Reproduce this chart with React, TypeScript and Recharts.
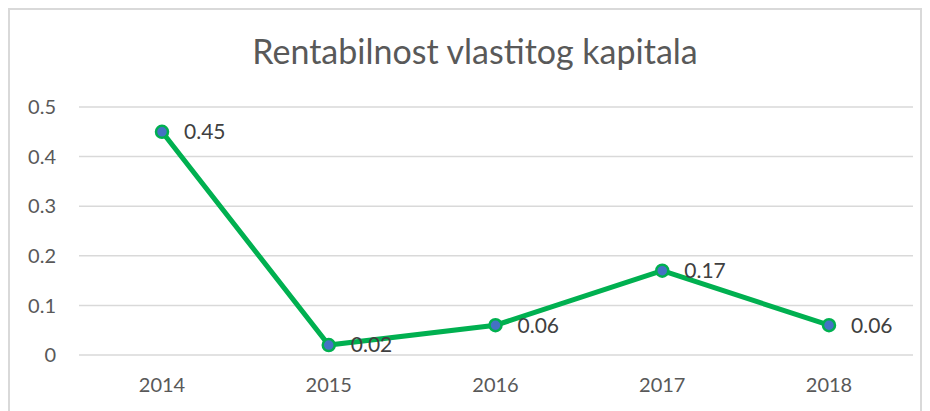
import { LineChart, Line, XAxis, YAxis, CartesianGrid } from "recharts";

const years = ["2014", "2015", "2016", "2017", "2018"];
const values = [0.45, 0.02, 0.06, 0.17, 0.06];
const yTicks = [0, 0.1, 0.2, 0.3, 0.4, 0.5];

const data = years.map((y, i) => ({ year: y, v: values[i] }));

const font = "Lato, 'Open Sans', sans-serif";

function PointLabel(props: any) {
  const { x, y, value } = props;
  return (
    <text x={x + 22} y={y} dy="0.35em" fill="#404040" fontSize={21} fontFamily={font} textAnchor="start">
      {value}
    </text>
  );
}

export default function App() {
  return (
    <div
      style={{
        position: "relative",
        width: 910,
        height: 420,
        border: "2px solid #d9d9d9",
        background: "#fff",
        fontFamily: font,
      }}
    >
      <div
        style={{
          position: "absolute",
          top: 24,
          left: 0,
          width: 930,
          textAlign: "center",
          fontSize: 34,
          lineHeight: "34px",
          color: "#595959",
          pointerEvents: "none",
        }}
      >
        Rentabilnost vlastitog kapitala
      </div>
      <LineChart width={910} height={395} data={data} margin={{ top: 97, right: 7, left: 0, bottom: 10 }}>
        <CartesianGrid vertical={false} stroke="#d9d9d9" strokeWidth={1.5} />
        <XAxis
          dataKey="year"
          axisLine={false}
          tickLine={false}
          tickSize={0}
          tickMargin={23}
          height={40}
          padding={{ left: 83, right: 84 }}
          tick={{ fill: "#595959", fontSize: 20, fontFamily: font }}
        />
        <YAxis
          domain={[0, 0.5]}
          ticks={yTicks}
          axisLine={false}
          tickLine={false}
          tickSize={0}
          tickMargin={23}
          width={69}
          tick={{ fill: "#595959", fontSize: 20, fontFamily: font }}
        />
        <Line
          type="linear"
          dataKey="v"
          stroke="#00b050"
          strokeWidth={5}
          dot={{ r: 6, fill: "#4472c4", stroke: "#00b050", strokeWidth: 2.5 }}
          label={<PointLabel />}
          isAnimationActive={false}
        />
      </LineChart>
    </div>
  );
}
